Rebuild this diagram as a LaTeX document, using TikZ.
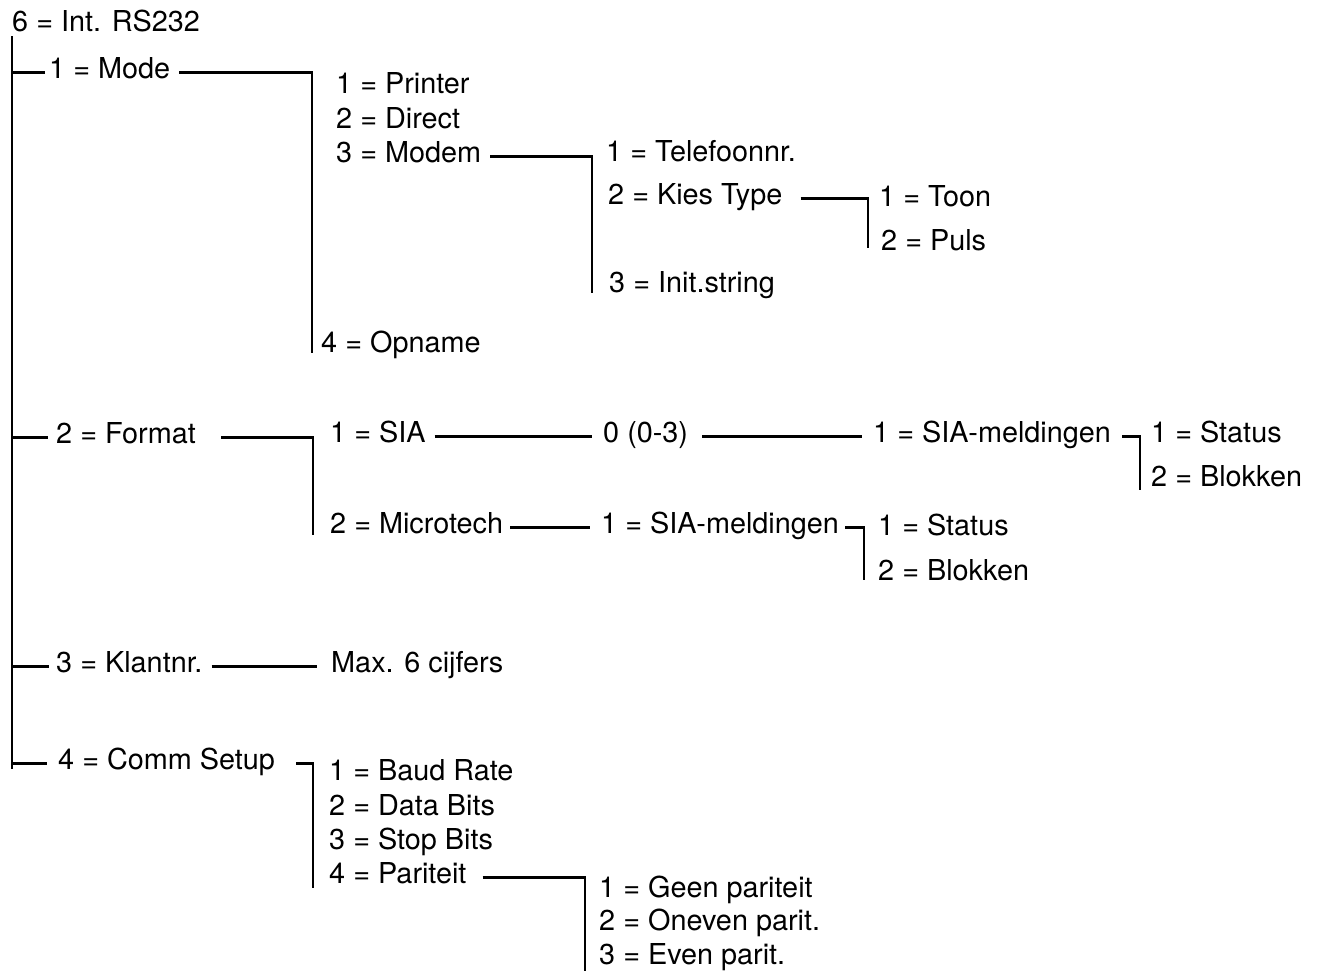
\documentclass[tikz,border=0pt]{standalone}
\usepackage{fontspec}
\setmainfont{TeX Gyre Heros}
\usetikzlibrary{calc}

\begin{document}
\begin{tikzpicture}[x=0.02cm, y=-0.02cm, line width=1.4pt,
  lbl/.style={anchor=base west, inner sep=0pt, text height=0.64em, text depth=0pt,
    font=\fontsize{16.4}{19}\selectfont}]
  \useasboundingbox (0,0) rectangle (1319,971);
  \coordinate (trunk) at (12,36);
  \coordinate (trunkend) at (12,769);
  \coordinate (barmode) at (312,0);
  \coordinate (barmodeend) at (312,353);
  \coordinate (barmodem) at (592,0);
  \coordinate (barmodemend) at (592,293);
  \coordinate (barkies) at (868,0);
  \coordinate (barkiesend) at (868,248);
  \coordinate (barformat) at (313,0);
  \coordinate (barformatend) at (313,535);
  \coordinate (barsia) at (1140,0);
  \coordinate (barsiaend) at (1140,490);
  \coordinate (barmicro) at (864,0);
  \coordinate (barmicroend) at (864,580);
  \coordinate (barcomm) at (313,0);
  \coordinate (barcommend) at (313,888);
  \coordinate (barparit) at (585,0);
  \coordinate (barparitend) at (585,971);

  \node[lbl] (root) at (11,31) {6 = Int. RS232};
  % 1 = Mode
  \node[lbl] (mode) at (48,78) {1 = Mode};
  \node[lbl] (printer) at (335,93) {1 = Printer};
  \node[lbl] (direct) at (335,128) {2 = Direct};
  \node[lbl] (modem) at (335,162) {3 = Modem};
  \node[lbl] (tel) at (605,161) {1 = Telefoonnr.};
  \node[lbl] (kies) at (607,204) {2 = Kies Type};
  \node[lbl] (toon) at (878,206) {1 = Toon};
  \node[lbl] (puls) at (880,250) {2 = Puls};
  \node[lbl] (init) at (608,292) {3 = Init.string};
  \node[lbl] (opname) at (320,352) {4 = Opname};
  % 2 = Format
  \node[lbl] (format) at (55,443) {2 = Format};
  \node[lbl] (sia) at (329,442) {1 = SIA};
  \node[lbl] (sianum) at (602,442) {0 (0-3)};
  \node[lbl] (siamel) at (872,442) {1 = SIA-meldingen};
  \node[lbl] (status) at (1150,442) {1 = Status};
  \node[lbl] (blokken) at (1150,486) {2 = Blokken};
  \node[lbl] (micro) at (329,533) {2 = Microtech};
  \node[lbl] (micromel) at (600,533) {1 = SIA-meldingen};
  \node[lbl] (microstatus) at (877,535) {1 = Status};
  \node[lbl] (microblokken) at (877,580) {2 = Blokken};
  % 3 = Klantnr.
  \node[lbl] (klant) at (55,672) {3 = Klantnr.};
  \node[lbl] (max) at (330,672) {Max. 6 cijfers};
  % 4 = Comm Setup
  \node[lbl] (comm) at (57,769) {4 = Comm Setup};
  \node[lbl] (baud) at (328,780) {1 = Baud Rate};
  \node[lbl] (data) at (328,815) {2 = Data Bits};
  \node[lbl] (stop) at (328,849) {3 = Stop Bits};
  \node[lbl] (parit) at (328,883) {4 = Pariteit};
  \node[lbl] (geen) at (598,897) {1 = Geen pariteit};
  \node[lbl] (oneven) at (598,930) {2 = Oneven parit.};
  \node[lbl] (even) at (598,964) {3 = Even parit.};

  \draw (trunk) -- (trunkend);
  \draw (mode.west -| trunk) -- ([xshift=-1.7pt]mode.west);
  \draw (format.west -| trunk) -- ([xshift=-4pt]format.west);
  \draw (klant.west -| trunk) -- ([xshift=-3.4pt]klant.west);
  \draw (comm.west -| trunk) -- ([xshift=-5.7pt]comm.west);

  \draw ([xshift=4.5pt]mode.east) -- (mode.east -| barmode) -- (barmodeend);
  \draw ([xshift=4.5pt]modem.east) -- (modem.east -| barmodem) -- (barmodemend);
  \draw ([xshift=9.7pt]kies.east) -- (kies.east -| barkies) -- (barkiesend);

  \draw ([xshift=13.7pt]format.east) -- (format.east -| barformat) -- (barformatend);
  \draw ([xshift=4.5pt]sia.east) -- ([xshift=-5.7pt]sianum.west);
  \draw ([xshift=7.4pt]sianum.east) -- ([xshift=-5.7pt]siamel.west);
  \draw ([xshift=5.7pt]siamel.east) -- (siamel.east -| barsia) -- (barsiaend);
  \draw ([xshift=3.4pt]micro.east) -- ([xshift=-5.7pt]micromel.west);
  \draw ([xshift=2.8pt]micromel.east) -- (micromel.east -| barmicro) -- (barmicroend);

  \draw ([xshift=4.5pt]klant.east) -- ([xshift=-7.4pt]max.west);

  \draw ([xshift=11.4pt]comm.east) -- (comm.east -| barcomm) -- (barcommend);
  \draw ([xshift=8.5pt]parit.east) -- (parit.east -| barparit) -- (barparitend);
\end{tikzpicture}
\end{document}
